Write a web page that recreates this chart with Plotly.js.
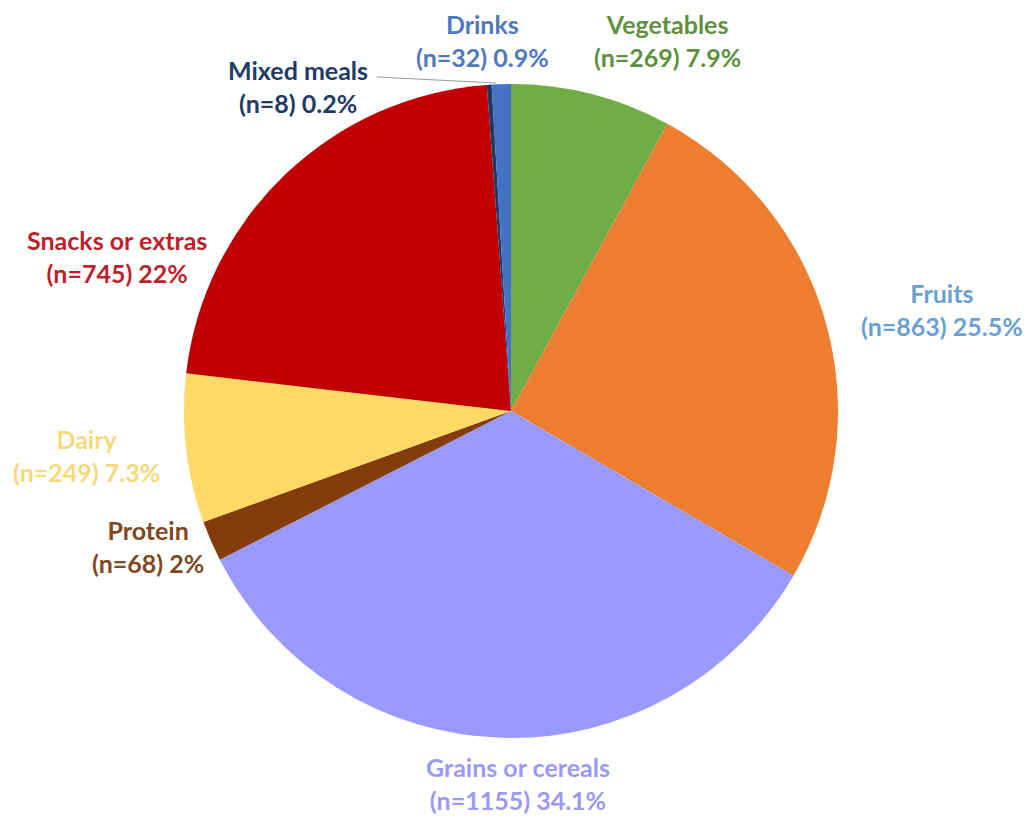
<!DOCTYPE html>
<html><head><meta charset="utf-8">
<script src="https://cdn.plot.ly/plotly-3.0.1.min.js"></script>
<style>body{margin:0;background:#fff}#chart{width:1033px;height:817px}</style>
</head><body><div id="chart"></div>
<script>
const categories = ["Vegetables","Fruits","Grains or cereals","Protein","Dairy","Snacks or extras","Mixed meals","Drinks"];
const counts = [269, 863, 1155, 68, 249, 745, 8, 32];
const pctLabels = ["7.9%","25.5%","34.1%","2%","7.3%","22%","0.2%","0.9%"];
const sliceColors = ["#70AD47","#ED7D31","#9999FF","#843C0C","#FFD966","#C00000","#1F3864","#4472C4"];
const labelColors = ["#5E9140","#6A9FD3","#9A9AF5","#80481E","#F6D97A","#BE1F2A","#213A66","#4F78C0"];
// label centres in pixels (layout only)
const labelPos = [[667,40],[942,309],[518,783],[148,546],[86,455],[117,256],[298,86],[482,40]];

const W = 1033, H = 817, M = {l:0, r:11, t:84, b:79};
const pw = W - M.l - M.r, ph = H - M.t - M.b;
const toPx = (x) => (x - M.l) / pw;
const toPy = (y) => (H - M.b - y) / ph;

const annotations = categories.map((c, i) => ({
  text: "<b>" + c + "</b><br><b>(n=" + counts[i] + ") " + pctLabels[i] + "</b>",
  x: toPx(labelPos[i][0]), y: toPy(labelPos[i][1]),
  xref: "paper", yref: "paper", showarrow: false,
  xanchor: "center", yanchor: "middle", align: "center",
  font: {family: "Lato, 'Open Sans', sans-serif", size: 25, color: labelColors[i]}
}));

const data = [{
  type: "pie",
  labels: categories,
  values: counts,
  marker: {colors: sliceColors, line: {width: 0}},
  sort: false,
  direction: "clockwise",
  rotation: 0,
  textinfo: "none",
  hoverinfo: "skip",
  showlegend: false
}];

const layout = {
  width: W, height: H,
  margin: M,
  paper_bgcolor: "#ffffff",
  plot_bgcolor: "#ffffff",
  showlegend: false,
  annotations: annotations,
  shapes: [{
    type: "line", xref: "paper", yref: "paper",
    x0: toPx(377), y0: toPy(77), x1: toPx(496), y1: toPy(83),
    line: {color: "#9a9a9a", width: 1}
  }]
};
Plotly.newPlot("chart", data, layout, {staticPlot: true});
</script></body></html>
